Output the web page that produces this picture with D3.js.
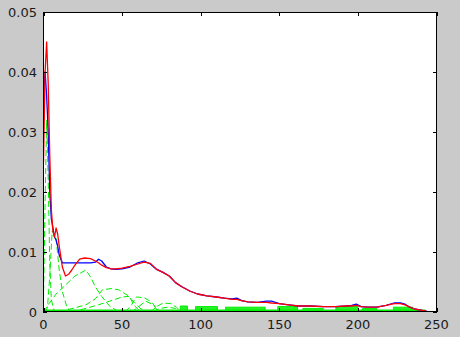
<!DOCTYPE html>
<html><head><meta charset="utf-8">
<script src="https://cdn.jsdelivr.net/npm/d3@7"></script>
<style>html,body{margin:0;padding:0;background:#cacaca;}svg{display:block;}</style>
</head><body>
<svg id="c" width="460" height="337"></svg>
<script>
// ---------- data ----------
const xTicks = [0, 50, 100, 150, 200, 250];
const yTicks = [0, 0.01, 0.02, 0.03, 0.04, 0.05];
const yTickLabels = ["0", "0.01", "0.02", "0.03", "0.04", "0.05"];

const xs = [0,1,2,3,4,5,6,7,8,9,10,12,14,16,18,20,23,26,30,33,35,37,40,43,46,50,55,60,64,68,72,76,80,84,88,93,98,104,110,115,120,123,126,130,136,142,145,150,156,162,170,178,186,192,196,199,202,206,212,218,223,227,230,233,236,240,244,248];
const redVals = [0.025,0.040,0.045,0.038,0.026,0.017,0.0135,0.0125,0.014,0.013,0.011,0.0075,0.006,0.0063,0.007,0.0078,0.0088,0.009,0.0089,0.0085,0.0082,0.0078,0.0074,0.0072,0.0072,0.0073,0.0076,0.0080,0.0083,0.0081,0.0071,0.0066,0.0060,0.0049,0.0042,0.0035,0.0030,0.0027,0.0025,0.0023,0.0021,0.0021,0.0019,0.0017,0.0016,0.0016,0.0015,0.0014,0.0012,0.0010,0.0010,0.0009,0.0009,0.0010,0.0010,0.0011,0.0009,0.0008,0.0008,0.0011,0.0014,0.0014,0.0012,0.0008,0.0005,0.0003,0.0001,0.0];
const blueVals = [0.036,0.040,0.036,0.030,0.020,0.0155,0.014,0.0125,0.012,0.011,0.0095,0.0082,0.0082,0.0082,0.0082,0.0082,0.0082,0.0082,0.0082,0.0083,0.0088,0.0085,0.0075,0.0072,0.0071,0.0072,0.0075,0.0082,0.0085,0.0080,0.0071,0.0066,0.0060,0.0049,0.0042,0.0035,0.0030,0.0027,0.0025,0.0023,0.0022,0.0023,0.0019,0.0017,0.0016,0.0018,0.0018,0.0014,0.0012,0.0010,0.0010,0.0009,0.0009,0.0010,0.0011,0.0013,0.0009,0.0008,0.0008,0.0011,0.0015,0.0015,0.0013,0.0008,0.0005,0.0003,0.0001,0.0];

// green dashed components: [x, value] pairs
const greenA = [[0,0.002],[1,0.018],[2,0.032],[3,0.022],[4,0.008],[5,0.002],[7,0]];
const greenB = [[1,0],[2.5,0.0007],[4,0.006],[5.5,0.0135],[6.5,0.013],[8,0.0123],[10,0.007],[12,0.0034],[15,0.0007],[18,0]];
const greenC = [[0,0],[3,0.0012],[8,0.003],[14,0.0045],[20,0.006],[27,0.007],[30,0.0058],[33,0.0042],[37,0.0026],[42,0.001],[48,0]];
const greenD = [[10,0],[20,0.0007],[27,0.0012],[33,0.0022],[37.5,0.0037],[43,0.0039],[48,0.0037],[54.5,0.0026],[58,0.001],[62,0]];
const greenE = [[18,0],[27,0.0006],[35,0.0012],[42,0.0018],[50,0.0025],[54,0.0026],[58,0.0016],[62,0.0005],[66,0]];
const greenF = [[52,0],[56,0.0012],[59,0.0025],[64,0.0024],[69,0.0016],[72,0.0005],[74,0]];
const greenG = [[56,0],[60,0.0008],[65,0.0018],[70,0.0012],[73,0]];
const greenH = [[68,0],[72,0.0009],[76,0.0015],[81,0.0014],[84.5,0.0008],[88,0]];
const greenI = [[70,0],[74,0.0006],[79,0.0008],[84,0.0006],[86,0]];
const greenBase = [[0,0.00015],[243,0.00015]];
// dense low components near zero: [start, end, height]
const greenBlocks = [[87,91.6,0.0010],[96.7,110.7,0.0009],[115.8,141,0.0008],[149,161.6,0.0009],[165,178,0.0006],[186,200,0.0009],[203,212,0.0006],[222.6,235,0.0008]];

// ---------- layout ----------
const svg = d3.select("#c");
const L = 43, T = 12, R = 437, B = 312;
const x = d3.scaleLinear().domain([0, 250]).range([L + 0.5, R - 0.5]);
const y = d3.scaleLinear().domain([0, 0.05]).range([B, T]);

svg.append("rect").attr("x", 0).attr("y", 0).attr("width", 460).attr("height", 337).attr("fill", "#cacaca");
svg.append("rect").attr("x", L).attr("y", T).attr("width", R - L).attr("height", B - T).attr("fill", "#ffffff");

svg.append("clipPath").attr("id", "clip").append("rect")
  .attr("x", L).attr("y", T - 1).attr("width", R - L).attr("height", B - T + 1);
const g = svg.append("g").attr("clip-path", "url(#clip)");

const line = d3.line().x(d => x(d[0])).y(d => y(d[1]));
const GREEN = "#00ee00";

// blocks near zero
g.selectAll("path.blk").data(greenBlocks).join("path")
  .attr("class", "blk")
  .attr("d", d => line([[d[0], 0], [d[0], d[2]], [d[1], d[2]], [d[1], 0]]) + "Z")
  .attr("fill", GREEN).attr("fill-opacity", 0.85)
  .attr("stroke", GREEN).attr("stroke-width", 1);

g.append("path").attr("d", line(greenBase)).attr("fill", "none")
  .attr("stroke", GREEN).attr("stroke-width", 3);

[greenA, greenB, greenC, greenD, greenE, greenF, greenG, greenH, greenI].forEach(s => {
  g.append("path").attr("d", line(s)).attr("fill", "none")
    .attr("stroke", GREEN).attr("stroke-width", 1).attr("stroke-dasharray", "6,3");
});

const blue = xs.map((v, i) => [v, blueVals[i]]);
const red = xs.map((v, i) => [v, redVals[i]]);
g.append("path").attr("d", line(blue)).attr("fill", "none")
  .attr("stroke", "#0000ff").attr("stroke-width", 1.3).attr("stroke-linejoin", "round");
g.append("path").attr("d", line(red)).attr("fill", "none")
  .attr("stroke", "#ff0000").attr("stroke-width", 1.3).attr("stroke-linejoin", "round");

// ---------- axes ----------
const tickLen = 4;
const ax = svg.append("g").attr("stroke", "#000").attr("stroke-width", 1).attr("shape-rendering", "crispEdges");
ax.append("rect").attr("x", L + 0.5).attr("y", T + 0.5).attr("width", R - L - 1).attr("height", B - T - 1)
  .attr("fill", "none").attr("stroke", "#000");
xTicks.forEach(t => {
  const px = Math.round(x(t)) + 0.5;
  ax.append("line").attr("x1", px).attr("x2", px).attr("y1", B).attr("y2", B - tickLen);
  ax.append("line").attr("x1", px).attr("x2", px).attr("y1", T).attr("y2", T + tickLen);
});
yTicks.forEach(t => {
  const py = Math.round(y(t)) + 0.5;
  ax.append("line").attr("x1", L).attr("x2", L + tickLen).attr("y1", py).attr("y2", py);
  ax.append("line").attr("x1", R).attr("x2", R - tickLen).attr("y1", py).attr("y2", py);
});

const font = "'DejaVu Sans', sans-serif";
svg.selectAll("text.xl").data(xTicks).join("text").attr("class", "xl")
  .attr("x", d => x(d)).attr("y", 328.5)
  .attr("text-anchor", "middle").attr("font-family", font).attr("font-size", 13).attr("fill", "#1a1a1a")
  .text(d => d);
svg.selectAll("text.yl").data(yTicks).join("text").attr("class", "yl")
  .attr("x", 37).attr("y", d => y(d) + 5)
  .attr("text-anchor", "end").attr("font-family", font).attr("font-size", 13).attr("fill", "#1a1a1a")
  .text((d, i) => yTickLabels[i]);
</script>
</body></html>
